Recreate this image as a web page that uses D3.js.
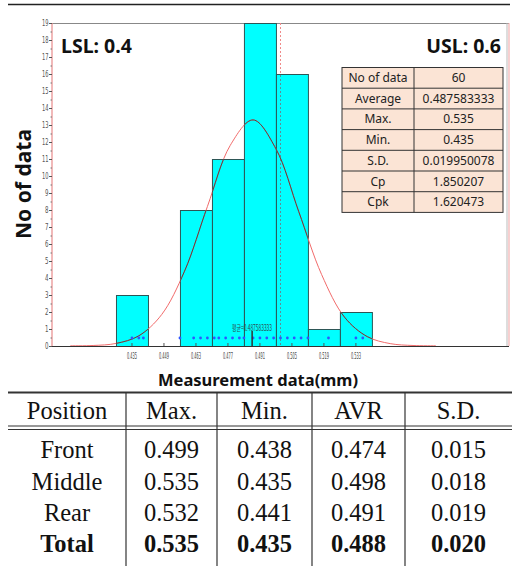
<!DOCTYPE html>
<html>
<head>
<meta charset="utf-8">
<title>Histogram with process capability</title>
<script src="https://cdnjs.cloudflare.com/ajax/libs/d3/7.8.5/d3.min.js"></script>
<style>
    body { margin: 0; background: #fff; }
    svg { display: block; }
</style>
</head>
<body>
<div id="chart"></div>
<script>
    // histogram bins (centre of each bin, count)
    const binCenters = [0.435, 0.449, 0.463, 0.477, 0.491, 0.505, 0.519, 0.533];
    const binCounts = [3, 0, 8, 11, 19, 16, 1, 2];
    const binWidth = 0.014;

    const xTickValues = [0.435, 0.449, 0.463, 0.477, 0.491, 0.505, 0.519, 0.533];
    const xTickLabels = ["0.435", "0.449", "0.463", "0.477", "0.491", "0.505", "0.519", "0.533"];
    const yTickValues = [0, 1, 2, 3, 4, 5, 6, 7, 8, 9, 10, 11, 12, 13, 14, 15, 16, 17, 18, 19];

    // fitted curve
    const curveX = [0.408, 0.418, 0.428, 0.438, 0.448, 0.458, 0.468, 0.478, 0.488,
                    0.498, 0.508, 0.518, 0.528, 0.538, 0.548, 0.558, 0.568];
    const curveY = [0.01, 0.03, 0.15, 0.6, 1.85, 4.4, 8.2, 11.8, 13.3,
                    11.6, 7.9, 4.2, 1.7, 0.55, 0.14, 0.03, 0.01];

    // individual measured values shown as dots
    const dotValues = [0.435, 0.438, 0.440, 0.456, 0.462, 0.465, 0.468, 0.471, 0.473, 0.476,
                       0.479, 0.482, 0.484, 0.488, 0.491, 0.494, 0.497, 0.500, 0.503, 0.506,
                       0.509, 0.512, 0.521, 0.533, 0.536];

    const lsl = 0.4, usl = 0.6, nominal = 0.5, mean = 0.487583333;

    const statLabels = ["No of data", "Average", "Max.", "Min.", "S.D.", "Cp", "Cpk"];
    const statValues = ["60", "0.487583333", "0.535", "0.435", "0.019950078", "1.850207", "1.620473"];

    const tableHeader = ["Position", "Max.", "Min.", "AVR", "S.D."];
    const positions = ["Front", "Middle", "Rear", "Total"];
    const maxVals = ["0.499", "0.535", "0.532", "0.535"];
    const minVals = ["0.438", "0.435", "0.441", "0.435"];
    const avrVals = ["0.474", "0.498", "0.491", "0.488"];
    const sdVals = ["0.015", "0.018", "0.019", "0.020"];

    const W = 517, H = 566;
    const svg = d3.select("#chart").append("svg")
        .attr("width", W).attr("height", H);

    const x = d3.scaleLinear().domain([lsl, usl]).range([52, 509]);
    const y = d3.scaleLinear().domain([0, 19]).range([346, 23]);

    // top rule
    svg.append("line").attr("x1", 8).attr("x2", 510).attr("y1", 4.5).attr("y2", 4.5)
        .attr("stroke", "#222").attr("stroke-width", 1.5);

    // frame
    svg.append("line").attr("x1", 52).attr("x2", 509).attr("y1", 23.5).attr("y2", 23.5)
        .attr("stroke", "#888");
    svg.append("line").attr("x1", 507).attr("x2", 507).attr("y1", 23).attr("y2", 346)
        .attr("stroke", "#bbb");

    // bars
    const bars = binCenters.map((c, i) => ({ x0: c - binWidth / 2, x1: c + binWidth / 2, n: binCounts[i] }))
        .filter(d => d.n > 0);

    const defs = svg.append("defs");
    defs.append("clipPath").attr("id", "barclip")
        .selectAll("rect").data(bars).enter().append("rect")
        .attr("x", d => x(d.x0)).attr("y", d => y(d.n))
        .attr("width", d => x(d.x1) - x(d.x0)).attr("height", d => y(0) - y(d.n));

    svg.append("g").selectAll("rect").data(bars).enter().append("rect")
        .attr("x", d => x(d.x0) + 0.5).attr("y", d => y(d.n) + 0.5)
        .attr("width", d => x(d.x1) - x(d.x0)).attr("height", d => y(0) - y(d.n))
        .attr("fill", "#00ffff").attr("stroke", "#2d5656").attr("stroke-width", 1);

    // LSL / USL / nominal lines
    svg.append("line").attr("x1", x(lsl)).attr("x2", x(lsl)).attr("y1", y(19)).attr("y2", y(0))
        .attr("stroke", "#e88a8a").attr("stroke-width", 1.2);
    svg.append("line").attr("x1", x(usl)).attr("x2", x(usl)).attr("y1", y(19)).attr("y2", y(0))
        .attr("stroke", "#f2b0b0").attr("stroke-width", 1.2);

    const nomLine = g => g.append("line")
        .attr("x1", x(nominal)).attr("x2", x(nominal)).attr("y1", y(19)).attr("y2", y(0))
        .attr("stroke-width", 1).attr("stroke-dasharray", "2,2");
    nomLine(svg).attr("stroke", "#f08a8a");
    nomLine(svg.append("g").attr("clip-path", "url(#barclip)")).attr("stroke", "#5b8f98");

    // fitted curve
    const line = d3.line().x(d => x(d[0])).y(d => y(d[1])).curve(d3.curveCatmullRom);
    const pts = curveX.map((v, i) => [v, curveY[i]]);
    svg.append("path").datum(pts).attr("d", line)
        .attr("fill", "none").attr("stroke", "#f26b6b").attr("stroke-width", 1);
    svg.append("g").attr("clip-path", "url(#barclip)")
        .append("path").datum(pts).attr("d", line)
        .attr("fill", "none").attr("stroke", "#4a4a4a").attr("stroke-width", 1);

    // baseline
    svg.append("line").attr("x1", 52).attr("x2", 509).attr("y1", 346.5).attr("y2", 346.5)
        .attr("stroke", "#333");

    // dots
    svg.append("g").selectAll("circle").data(dotValues).enter().append("circle")
        .attr("cx", d => x(d)).attr("cy", 338).attr("r", 1.4).attr("fill", "#2f55ff");

    // mean marker
    svg.append("line").attr("x1", x(mean)).attr("x2", x(mean)).attr("y1", 331).attr("y2", 346)
        .attr("stroke", "#333").attr("stroke-width", 1.5);
    svg.append("text").attr("x", 232).attr("y", 331)
        .attr("font-family", "'Noto Sans CJK KR', sans-serif").attr("font-size", 8.5)
        .attr("textLength", 40).attr("lengthAdjust", "spacingAndGlyphs")
        .attr("fill", "#2c4d4d").text("평균=" + mean);

    // x axis ticks
    const xa = svg.append("g");
    xa.selectAll("line").data(xTickValues).enter().append("line")
        .attr("x1", d => x(d)).attr("x2", d => x(d)).attr("y1", 343).attr("y2", 346)
        .attr("stroke", "#555");
    xa.selectAll("text").data(xTickValues).enter().append("text")
        .attr("x", d => x(d)).attr("y", 359).attr("text-anchor", "middle")
        .attr("font-family", "'Liberation Sans Narrow', 'DejaVu Sans Condensed', sans-serif")
        .attr("font-size", 9).attr("textLength", 10).attr("lengthAdjust", "spacingAndGlyphs")
        .attr("fill", "#444").text((d, i) => xTickLabels[i]);

    // y axis ticks
    const ya = svg.append("g");
    ya.selectAll("line.major").data(yTickValues).enter().append("line")
        .attr("x1", 49).attr("x2", 52).attr("y1", d => y(d) + 0.5).attr("y2", d => y(d) + 0.5)
        .attr("stroke", "#555");
    ya.selectAll("line.minor").data(yTickValues.slice(0, -1)).enter().append("line")
        .attr("x1", 50.5).attr("x2", 52).attr("y1", d => y(d + 0.5) + 0.5).attr("y2", d => y(d + 0.5) + 0.5)
        .attr("stroke", "#777");
    ya.selectAll("text").data(yTickValues).enter().append("text")
        .attr("x", 48.5).attr("y", d => y(d) + 3).attr("text-anchor", "end")
        .attr("font-family", "'Liberation Sans Narrow', 'DejaVu Sans Condensed', sans-serif")
        .attr("font-size", 8.5).attr("fill", "#555")
        .attr("textLength", d => d < 10 ? 3.5 : 6.5).attr("lengthAdjust", "spacingAndGlyphs")
        .text(d => d);

    // LSL / USL labels
    const boldSans = "'Noto Sans', 'Open Sans', sans-serif";
    svg.append("text").attr("x", 61).attr("y", 53)
        .attr("font-family", boldSans).attr("font-weight", "bold").attr("font-size", 19.5)
        .attr("fill", "#111").text("LSL: " + lsl);
    svg.append("text").attr("x", 501).attr("y", 53).attr("text-anchor", "end")
        .attr("font-family", boldSans).attr("font-weight", "bold").attr("font-size", 19.5)
        .attr("fill", "#111").text("USL: " + usl);

    // stats box
    const sx = [342, 414, 503], sy0 = 67.5, rh = 20.7;
    const st = svg.append("g");
    st.append("rect").attr("x", sx[0]).attr("y", sy0).attr("width", sx[2] - sx[0])
        .attr("height", rh * statLabels.length).attr("fill", "#fbe4d5")
        .attr("stroke", "#333").attr("stroke-width", 1);
    st.selectAll("line.row").data(statLabels.slice(1)).enter().append("line")
        .attr("x1", sx[0]).attr("x2", sx[2])
        .attr("y1", (d, i) => sy0 + rh * (i + 1)).attr("y2", (d, i) => sy0 + rh * (i + 1))
        .attr("stroke", "#333");
    st.append("line").attr("x1", sx[1]).attr("x2", sx[1]).attr("y1", sy0)
        .attr("y2", sy0 + rh * statLabels.length).attr("stroke", "#333");
    st.selectAll("text.lab").data(statLabels).enter().append("text")
        .attr("x", (sx[0] + sx[1]) / 2).attr("y", (d, i) => sy0 + rh * i + 14.5)
        .attr("text-anchor", "middle").attr("font-family", boldSans).attr("font-size", 12)
        .attr("fill", "#222").text(d => d);
    st.selectAll("text.val").data(statValues).enter().append("text")
        .attr("x", (sx[1] + sx[2]) / 2).attr("y", (d, i) => sy0 + rh * i + 14.5)
        .attr("text-anchor", "middle").attr("font-family", boldSans).attr("font-size", 12)
        .attr("fill", "#222").text(d => d);

    // axis titles
    svg.append("text").attr("transform", "translate(31,184) rotate(-90)")
        .attr("text-anchor", "middle").attr("font-family", boldSans).attr("font-weight", "bold")
        .attr("font-size", 21).attr("fill", "#111").text("No of data");
    svg.append("text").attr("x", 258).attr("y", 386).attr("text-anchor", "middle")
        .attr("font-family", boldSans).attr("font-weight", "bold")
        .attr("font-size", 16.5).attr("fill", "#111").text("Measurement data(mm)");

    // summary table
    const colEdges = [8, 126, 217, 312, 405, 512];
    const colMid = colEdges.slice(0, -1).map((e, i) => (e + colEdges[i + 1]) / 2);
    const tb = svg.append("g").attr("font-family", "'Liberation Serif', 'Times New Roman', serif")
        .attr("font-size", 24.5).attr("fill", "#111");
    tb.append("line").attr("x1", 8).attr("x2", 512).attr("y1", 392.5).attr("y2", 392.5)
        .attr("stroke", "#333").attr("stroke-width", 2);
    tb.append("line").attr("x1", 8).attr("x2", 512).attr("y1", 426).attr("y2", 426)
        .attr("stroke", "#333").attr("stroke-width", 1.2);
    tb.append("line").attr("x1", 8).attr("x2", 512).attr("y1", 429.5).attr("y2", 429.5)
        .attr("stroke", "#333").attr("stroke-width", 1.2);
    tb.selectAll("line.col").data(colEdges.slice(1, -1)).enter().append("line")
        .attr("x1", d => d).attr("x2", d => d).attr("y1", 392).attr("y2", H)
        .attr("stroke", "#333").attr("stroke-width", 1.2);
    tb.selectAll("text.head").data(tableHeader).enter().append("text")
        .attr("x", (d, i) => colMid[i]).attr("y", 419).attr("text-anchor", "middle").text(d => d);

    const rows = positions.map((p, i) => [p, maxVals[i], minVals[i], avrVals[i], sdVals[i]]);
    const rowY = [458, 490, 521, 552];
    rows.forEach((r, ri) => {
        tb.selectAll(null).data(r).enter().append("text")
            .attr("x", (d, i) => colMid[i]).attr("y", rowY[ri]).attr("text-anchor", "middle")
            .attr("font-weight", ri === rows.length - 1 ? "bold" : null)
            .text(d => d);
    });
</script>
</body>
</html>
